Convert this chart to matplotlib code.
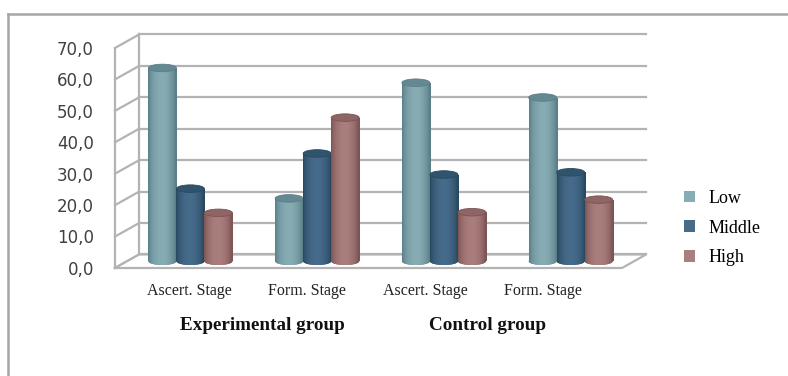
import numpy as np
import matplotlib
matplotlib.use("Agg")
import matplotlib.pyplot as plt
from matplotlib.patches import Ellipse, Patch, Polygon
from matplotlib.lines import Line2D
import matplotlib.colors as mcolors

### Data
stages = ["Ascert. Stage", "Form. Stage", "Ascert. Stage", "Form. Stage"]
groups = ["Experimental group", "Control group"]
levels = ["Low", "Middle", "High"]
low = [61.5, 20.0, 56.8, 52.1]
middle = [23.1, 34.3, 27.6, 28.3]
high = [15.4, 45.7, 15.6, 19.6]
yticks = [0, 10, 20, 30, 40, 50, 60, 70]

### Styling
# (center, edge, top) colour of each cylinder series
shades = {
    "Low": ("#88acb4", "#5b7f88", "#648993"),
    "Middle": ("#466b8b", "#2a4960", "#31546e"),
    "High": ("#ab7e7e", "#7c5454", "#8f6464"),
}
grid_color = "#b3b3b3"
DX, DY = 0.19, 4.3      # depth of the box, in data units
BAR_W = 0.221
ELL_H = 2.4             # height of the cylinder caps

fig = plt.figure(figsize=(7.88, 3.76), dpi=100)
ax = fig.add_axes([115 / 788, 1 - 268 / 376, 507 / 788, 220 / 376])
ax.set_xlim(0, 4)
ax.set_ylim(0, 70)
ax.set_autoscale_on(False)
ax.axis("off")

### Back wall, left wall and floor
for v in yticks:
    ax.plot([DX, 4 + DX], [v + DY, v + DY], color=grid_color, lw=1.6, zorder=1, clip_on=False)
    ax.plot([0, DX], [v, v + DY], color=grid_color, lw=1.6, zorder=1, clip_on=False)
    ax.text(-0.166, v - 0.6, f"{v:.1f}".replace(".", ","), ha="right", va="center",
            fontsize=12, color="#404040", family="DejaVu Sans")
ax.plot([0, 0], [0, 70], color=grid_color, lw=1.6, zorder=1, clip_on=False)
ax.plot([DX, DX], [DY, 70 + DY], color=grid_color, lw=1.6, zorder=1, clip_on=False)
floor = Polygon([[0, 0], [4, 0], [4 + DX, DY], [DX, DY]], closed=True, facecolor="white",
                edgecolor="none", zorder=1.5, clip_on=False)
ax.add_patch(floor)
ax.plot([0, 4, 4 + DX, DX, 0], [0, 0, DY, DY, 0], color=grid_color, lw=1.6, zorder=1.6, clip_on=False)

### Cylinders
def gradient(center, edge, n=40):
    c0 = np.array(mcolors.to_rgb(edge))
    c1 = np.array(mcolors.to_rgb(center))
    t = np.linspace(0, 1, n)
    f = np.sin(np.pi * np.clip(t * 1.05, 0, 1)) ** 0.7
    return (c0[None, :] + (c1 - c0)[None, :] * f[:, None])[None, :, :]

x = np.arange(4) + 0.5
for k, (name, vals) in enumerate(zip(levels, [low, middle, high])):
    center, edge, top = shades[name]
    xs = x + (k - 1) * BAR_W + DX / 2
    bars = ax.bar(xs, vals, width=BAR_W, bottom=DY / 2, color=center, zorder=3 + k,
                  linewidth=0, clip_on=False)
    img = gradient(center, edge)
    for xc, v, rect in zip(xs, vals, bars):
        base = Ellipse((xc, DY / 2), BAR_W, ELL_H, facecolor=edge, edgecolor="none",
                       zorder=2.9 + k, clip_on=False)
        ax.add_patch(base)
        im = ax.imshow(img, extent=[xc - BAR_W / 2, xc + BAR_W / 2, DY / 2 - ELL_H / 2, DY / 2 + v],
                       aspect="auto", interpolation="bilinear", zorder=3.05 + k)
        im.set_clip_path(rect)
        im2 = ax.imshow(img, extent=[xc - BAR_W / 2, xc + BAR_W / 2, DY / 2 - ELL_H / 2, DY / 2 + ELL_H / 2],
                        aspect="auto", interpolation="bilinear", zorder=3.0 + k)
        im2.set_clip_path(base)
        cap = Ellipse((xc, DY / 2 + v), BAR_W, ELL_H, facecolor=top, edgecolor=edge,
                      lw=0.6, zorder=3.1 + k, clip_on=False)
        ax.add_patch(cap)

ax.set_xlim(0, 4)
ax.set_ylim(0, 70)

### Category and group labels (slightly pulled together by the perspective)
for i, s in enumerate(stages):
    ax.text(1.75 + (i + 0.5 - 1.75) * 0.93, -7.3, s, ha="center", va="center",
            fontsize=11.5, family="Liberation Serif", color="#222222")
for gx, g in zip([1.16, 2.94], groups):
    ax.text(gx, -18.3, g, ha="center", va="center", fontsize=13.8, fontweight="bold",
            family="Liberation Serif", color="#111111")

### Legend
handles = [Patch(facecolor=shades[n][0], edgecolor="none") for n in levels]
fig.legend(handles, levels, loc="center left", bbox_to_anchor=(684 / 788, 1 - 228 / 376),
           frameon=False, prop={"family": "Liberation Serif", "size": 13},
           handlelength=0.62, handleheight=0.62, handletextpad=0.75, labelspacing=0.7,
           borderpad=0, borderaxespad=0)

### Outer frame
fig.add_artist(Line2D([8 / 788, 1], [1 - 14 / 376, 1 - 14 / 376], color="#a6a6a6", lw=1.8))
fig.add_artist(Line2D([8 / 788, 8 / 788], [0, 1 - 14 / 376], color="#a6a6a6", lw=1.8))

fig.savefig("out.png", dpi=100)
